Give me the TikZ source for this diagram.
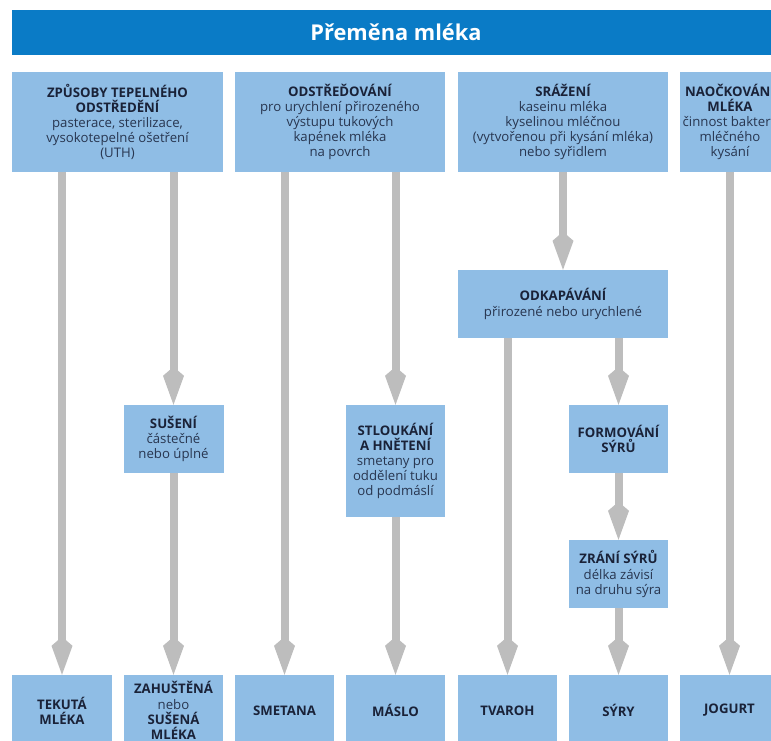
\documentclass[tikz,border=0pt]{standalone}
\usepackage{fontspec}
\setmainfont{Open Sans}
\usepackage{xcolor}
\usetikzlibrary{arrows.meta}
\definecolor{milkblue}{HTML}{8FBDE5}
\definecolor{barblue}{HTML}{0A7BC6}
\definecolor{arrowgray}{HTML}{BDBDBD}
\definecolor{inknavy}{HTML}{1A2238}
\definecolor{inkslate}{HTML}{283650}
\newcommand{\hd}[1]{\textbf{\color{inknavy}#1}}
\setlength{\lineskiplimit}{-20pt}
\tikzset{my box/.style = {fill=milkblue, text=inkslate, align=center, inner sep=0pt,
  font=\fontsize{13.2}{15.2}\selectfont},
  my arrow/.style = {draw=arrowgray, line width=8pt,
  -{Kite[length=38pt,width=21pt,inset=9pt]}},
  my title/.style = {fill=barblue, text=white, font=\fontsize{21.8}{24}\selectfont\bfseries}}

\begin{document}
\begin{tikzpicture}[x=1pt,y=-1pt]
  \useasboundingbox (0,0) rectangle (771,740);
  \clip (0,0) rectangle (771,740);
  \node[my title, minimum width=768pt, minimum height=45pt] (title) at (396,32.5) {Přeměna mléka};
  % top row
  \node[my box, minimum width=211pt, minimum height=100pt] (heat) at (117.5,122)
    {\hd{ZPŮSOBY TEPELNÉHO}\\\hd{ODSTŘEDĚNÍ}\\pasterace, sterilizace,\\vysokotepelné ošetření\\(UTH)};
  \node[my box, minimum width=210pt, minimum height=100pt] (spin) at (340,122)
    {\hd{ODSTŘEĎOVÁNÍ}\\pro urychlení přirozeného\\výstupu tukových\\kapének mléka\\na povrch};
  \node[my box, minimum width=210pt, minimum height=100pt] (curd) at (563,122)
    {\hd{SRÁŽENÍ}\\kaseinu mléka\\kyselinou mléčnou\\(vytvořenou při kysání mléka)\\nebo syřidlem};
  \node[my box, minimum width=100pt, minimum height=100pt] (inoc) at (730,122)
    {\hd{NAOČKOVÁNÍ}\\\hd{MLÉKA}\\činnost bakterií\\mléčného\\kysání};
  % middle steps
  \node[my box, minimum width=100pt, minimum height=68pt] (dry) at (173.5,439)
    {\hd{SUŠENÍ}\\částečné\\nebo úplné};
  \node[my box, minimum width=99pt, minimum height=112pt] (churn) at (395.5,461)
    {\hd{STLOUKÁNÍ}\\\hd{A HNĚTENÍ}\\smetany pro\\oddělení tuku\\od podmáslí};
  \node[my box, minimum width=210pt, minimum height=68pt] (drain) at (563,304)
    {\hd{ODKAPÁVÁNÍ}\\přirozené nebo urychlené};
  \node[my box, minimum width=99pt, minimum height=68pt] (shape) at (618.5,439)
    {\hd{FORMOVÁNÍ}\\\hd{SÝRŮ}};
  \node[my box, minimum width=99pt, minimum height=68pt] (ripen) at (618.5,574)
    {\hd{ZRÁNÍ SÝRŮ}\\délka závisí\\na druhu sýra};
  % products
  \node[my box, minimum width=100pt, minimum height=71pt] (liquid) at (62,710.5)
    {\hd{TEKUTÁ}\\\hd{MLÉKA}};
  \node[my box, minimum width=99pt, minimum height=71pt] (conc) at (173.5,710.5)
    {\hd{ZAHUŠTĚNÁ}\\nebo\\\hd{SUŠENÁ}\\\hd{MLÉKA}};
  \node[my box, minimum width=99pt, minimum height=71pt] (cream) at (284.5,710.5) {\hd{SMETANA}};
  \node[my box, minimum width=99pt, minimum height=71pt] (butter) at (395.5,710.5) {\hd{MÁSLO}};
  \node[my box, minimum width=99pt, minimum height=71pt] (quark) at (507.5,710.5) {\hd{TVAROH}};
  \node[my box, minimum width=99pt, minimum height=71pt] (cheese) at (618.5,710.5) {\hd{SÝRY}};
  \node[my box, minimum width=99pt, minimum height=71pt] (yogurt) at (729.5,710.5) {\hd{JOGURT}};
  % arrows
  \draw[my arrow] (heat.south -| liquid.north) -- (liquid.north);
  \draw[my arrow] (heat.south -| dry.north) -- (dry.north);
  \draw[my arrow] (dry.south) -- (conc.north);
  \draw[my arrow] (spin.south -| cream.north) -- (cream.north);
  \draw[my arrow] (spin.south -| churn.north) -- (churn.north);
  \draw[my arrow] (churn.south) -- (butter.north);
  \draw[my arrow] (curd.south) -- (drain.north);
  \draw[my arrow] (drain.south -| quark.north) -- (quark.north);
  \draw[my arrow] (drain.south -| shape.north) -- (shape.north);
  \draw[my arrow] (shape.south) -- (ripen.north);
  \draw[my arrow] (ripen.south) -- (cheese.north);
  \draw[my arrow] (inoc.south -| yogurt.north) -- (yogurt.north);
\end{tikzpicture}
\end{document}
